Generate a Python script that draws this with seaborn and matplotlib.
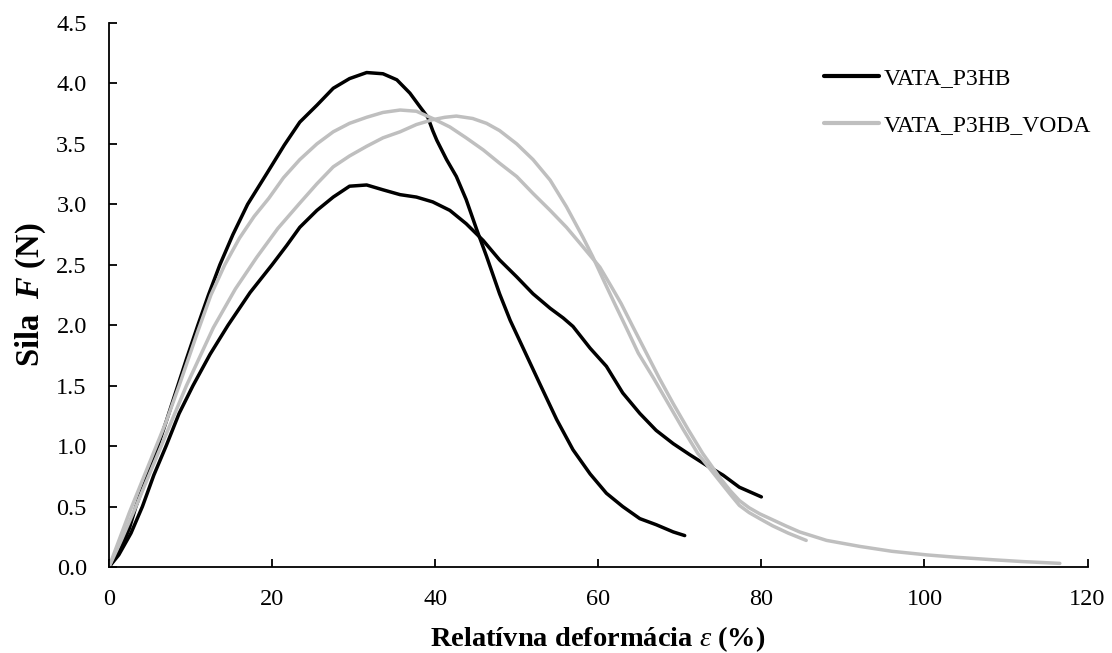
import numpy as np
import pandas as pd
import matplotlib
matplotlib.use("Agg")
import matplotlib.pyplot as plt
import seaborn as sns

# Force-deformation curves, two specimens per material
a1_x = [0, 1.3, 2.5, 3.3, 4.5, 6.0, 7.0, 8.2, 9.5, 10.9, 12.2, 13.6, 15.2, 17.0, 19.4,
        21.5, 23.4, 25.5, 27.5, 29.5, 31.6, 33.6, 35.3, 36.9, 38.1, 39.1, 39.7, 40.2,
        41.4, 42.6, 43.8, 45.1, 46.3, 47.9, 49.2, 51.0, 52.8, 54.9, 56.9, 59.0, 61.0,
        63.0, 65.1, 67.1, 69.2, 70.6]
a1_y = [0, 0.13, 0.32, 0.50, 0.72, 1.00, 1.20, 1.45, 1.72, 2.00, 2.25, 2.50, 2.75, 3.00, 3.26,
        3.49, 3.68, 3.82, 3.96, 4.04, 4.09, 4.08, 4.03, 3.92, 3.81, 3.72, 3.61, 3.53,
        3.37, 3.23, 3.04, 2.79, 2.57, 2.26, 2.04, 1.78, 1.52, 1.22, 0.97, 0.77, 0.61,
        0.50, 0.40, 0.35, 0.29, 0.26]

a2_x = [0, 1.2, 2.7, 4.1, 5.5, 7.0, 8.6, 10.3, 12.4, 14.6, 17.3, 20.0, 21.8, 23.4, 25.5,
        27.5, 29.5, 31.6, 33.6, 35.7, 37.7, 39.7, 41.8, 43.8, 45.9, 47.9, 50.0, 52.0,
        54.1, 55.7, 56.9, 59.0, 61.0, 63.0, 65.1, 67.1, 69.2, 71.2, 73.3, 75.3, 77.3,
        80.0]
a2_y = [0, 0.10, 0.28, 0.50, 0.76, 1.00, 1.27, 1.50, 1.76, 2.00, 2.27, 2.50, 2.66, 2.81, 2.95,
        3.06, 3.15, 3.16, 3.12, 3.08, 3.06, 3.02, 2.95, 2.84, 2.70, 2.54, 2.40, 2.26,
        2.14, 2.06, 1.99, 1.81, 1.66, 1.44, 1.27, 1.13, 1.02, 0.93, 0.84, 0.76, 0.66,
        0.58]

b1_x = [0, 2.5, 5.2, 7.0, 8.6, 10.9, 12.5, 14.2, 16.0, 17.8, 19.6, 21.4, 23.4, 25.5,
        27.5, 29.5, 31.6, 33.6, 35.7, 37.7, 39.7, 41.8, 43.8, 45.9, 47.9, 50.0, 52.0,
        54.1, 56.1, 58.1, 60.2, 61.6, 62.8, 64.3, 65.9, 67.5, 69.2, 71.0, 72.8, 74.9,
        76.2, 77.3, 78.5, 79.8, 81.4, 83.0, 84.7, 88.0, 92.1, 96.0, 100.3, 104.0,
        108.4, 112.0, 116.6]
b1_y = [0, 0.45, 0.90, 1.20, 1.50, 1.95, 2.25, 2.50, 2.72, 2.90, 3.05, 3.22, 3.37, 3.50,
        3.60, 3.67, 3.72, 3.76, 3.78, 3.77, 3.71, 3.64, 3.55, 3.45, 3.34, 3.23, 3.09,
        2.95, 2.81, 2.65, 2.48, 2.32, 2.18, 1.98, 1.77, 1.56, 1.35, 1.14, 0.94, 0.74,
        0.63, 0.55, 0.49, 0.44, 0.39, 0.34, 0.29, 0.22, 0.17, 0.13, 0.10, 0.08,
        0.06, 0.045, 0.03]

b2_x = [0, 1.5, 3.3, 6.4, 9.5, 12.8, 15.5, 18.1, 20.7, 23.4, 25.5, 27.5, 29.5, 31.6,
        33.6, 35.7, 37.7, 39.7, 41.2, 42.6, 44.6, 46.3, 47.9, 50.0, 52.0, 54.1, 56.1,
        58.1, 59.3, 60.6, 62.0, 63.5, 64.9, 66.8, 68.6, 70.4, 72.2, 74.9, 76.2, 77.3,
        78.5, 79.8, 81.4, 83.3, 85.5]
b2_y = [0, 0.22, 0.50, 1.00, 1.50, 1.98, 2.30, 2.56, 2.80, 3.01, 3.17, 3.31, 3.40, 3.48,
        3.55, 3.60, 3.66, 3.70, 3.72, 3.73, 3.71, 3.67, 3.61, 3.50, 3.37, 3.20, 2.98,
        2.73, 2.57, 2.38, 2.18, 1.97, 1.77, 1.56, 1.35, 1.14, 0.94, 0.71, 0.60, 0.51,
        0.45, 0.40, 0.34, 0.28, 0.22]

materials = ["VATA_P3HB", "VATA_P3HB_VODA"]
x_ticks = [0, 20, 40, 60, 80, 100, 120]
y_ticks = [0.0, 0.5, 1.0, 1.5, 2.0, 2.5, 3.0, 3.5, 4.0, 4.5]

frames = []
for mat, spec, xs, ys in [(materials[0], "A1", a1_x, a1_y),
                          (materials[0], "A2", a2_x, a2_y),
                          (materials[1], "B1", b1_x, b1_y),
                          (materials[1], "B2", b2_x, b2_y)]:
    frames.append(pd.DataFrame({"eps": xs, "F": ys, "material": mat, "specimen": spec}))
df = pd.concat(frames, ignore_index=True)

sns.set_style("ticks")
plt.rcParams["font.family"] = ["Liberation Serif", "DejaVu Serif"]
plt.rcParams["text.color"] = "black"
plt.rcParams["axes.labelcolor"] = "black"
plt.rcParams["xtick.color"] = "black"
plt.rcParams["ytick.color"] = "black"
plt.rcParams["mathtext.fontset"] = "custom"
plt.rcParams["mathtext.rm"] = "Liberation Serif"
plt.rcParams["mathtext.it"] = "Liberation Serif:italic"
plt.rcParams["mathtext.bf"] = "Liberation Serif:bold"
plt.rcParams["mathtext.bfit"] = "Liberation Serif:bold:italic"

fig = plt.figure(figsize=(11.12, 6.53), dpi=100)
ax = fig.add_axes([0.098, 0.1317, 0.880, 0.8331])

palette = {materials[0]: "#000000", materials[1]: "#bfbfbf"}
sns.lineplot(data=df, x="eps", y="F", hue="material", units="specimen",
             estimator=None, sort=False, palette=palette, linewidth=2.5, ax=ax)

ax.set_xlim(0, 120)
ax.set_ylim(0, 4.5)
ax.set_xticks(x_ticks)
ax.set_yticks(y_ticks)
ax.set_yticklabels([f"{v:.1f}" for v in y_ticks])
ax.set_xticklabels([str(v) for v in x_ticks])

for side in ["top", "right"]:
    ax.spines[side].set_visible(False)
for side in ["left", "bottom"]:
    ax.spines[side].set_linewidth(1.3)
    ax.spines[side].set_color("black")

ax.tick_params(axis="both", direction="in", length=5.5, width=1.3, colors="black",
               labelcolor="black", labelsize=17.5)
ax.tick_params(axis="x", pad=16)
ax.tick_params(axis="y", pad=16)

ax.set_xlabel("Relatívna deformácia $\\mathit{ε}$ (%)", fontsize=20.5, fontweight="bold",
              labelpad=10, color="black")
ax.set_ylabel("Sila  $\\mathbfit{F}$ (N)", fontsize=23.5, fontweight="bold", labelpad=6,
              color="black")

handles, labels = ax.get_legend_handles_labels()
leg = ax.legend(handles, labels, loc="upper left", bbox_to_anchor=(0.731, 0.918),
                frameon=False, fontsize=17, handlelength=2.33, handletextpad=0.2,
                labelspacing=1.08, borderpad=0, borderaxespad=0, labelcolor="black")
for line in leg.get_lines():
    line.set_linewidth(3)

fig.savefig("out.png", dpi=100)
